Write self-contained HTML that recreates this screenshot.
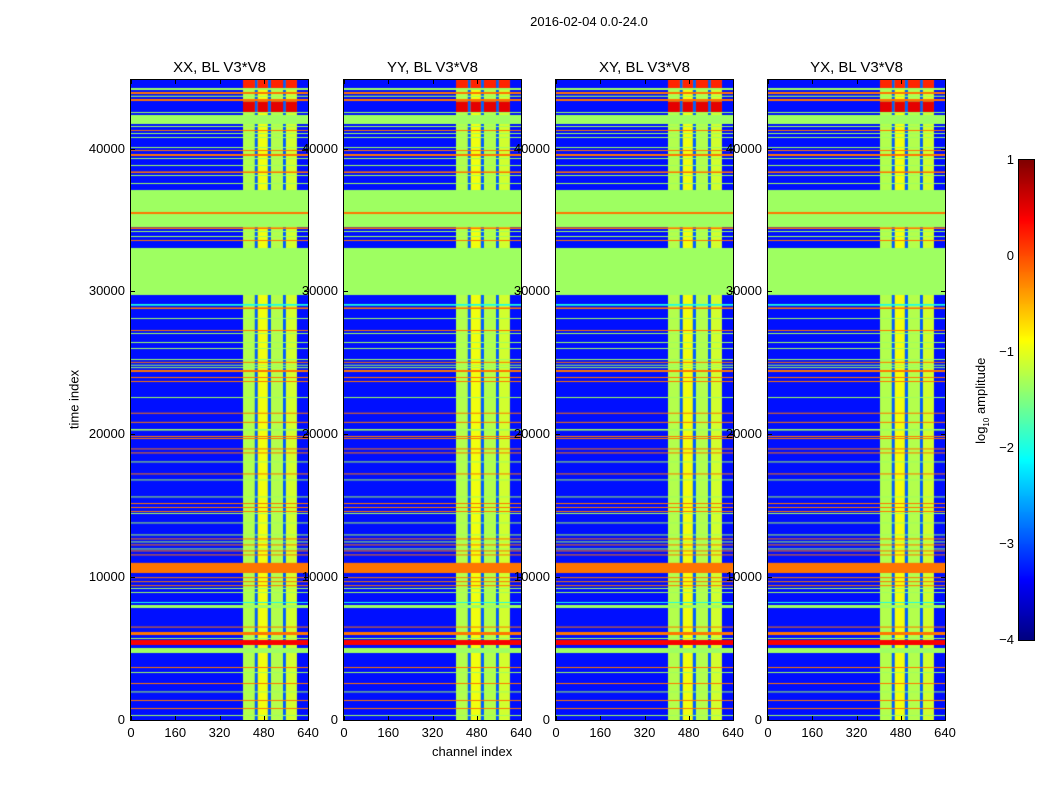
<!DOCTYPE html>
<html><head><meta charset="utf-8"><style>
body{margin:0;background:#fff;width:1050px;height:800px;position:relative;font-family:"Liberation Sans",sans-serif;overflow:hidden}
.t{position:absolute;font-size:13px;color:#000;white-space:nowrap}
canvas{position:absolute}
.frame{position:absolute;border:1px solid #000;box-sizing:border-box}
.tk{position:absolute;background:#000}
</style></head><body>
<div class="t" style="left:0;width:1178px;top:14px;text-align:center">2016-02-04 0.0-24.0</div>
<div class="t" style="left:44px;top:392px;transform:rotate(-90deg);transform-origin:center;width:60px;text-align:center">time index</div>
<div class="t" style="left:432px;top:744px">channel index</div>
<div id="root"></div>
<canvas id="cb" width="15" height="480" style="left:1019px;top:160px;width:15px;height:480px"></canvas>
<div class="frame" style="left:1018px;top:159px;width:17px;height:482px"></div>
<div class="t" style="left:932px;top:392px;width:100px;text-align:center;transform:rotate(-90deg)">log<sub style="font-size:8px">10</sub> amplitude</div>
<script>
const panelTitles=["XX, BL V3*V8","YY, BL V3*V8","XY, BL V3*V8","YX, BL V3*V8"];
const xTicks=[0,160,320,480,640];
const yTicks=[0,10000,20000,30000,40000];
const cbTicks=[1,0,-1,-2,-3,-4];
const baseValue=-3.3;
const blockStart=[405,448,458,495,506,550,560];
const blockEnd=[448,458,495,506,550,560,600];
const blockValue=[-1.25,-2.9,-0.95,-2.9,-1.25,-2.9,-1.1];
const redStart=[42500,44240];
const redEnd=[43300,44800];
const redValue=[0.5,0.2];
const bandStart=[44100,43820,43620,43330,42490,41720,41510,41230,41020,40740,40040,39830,39480,39270,38780,38290,38080,37520,35560,35420,34510,34370,34160,33810,33530,29750,29000,28770,28070,27230,27020,26390,25970,25200,25000,24800,24640,24360,23940,23660,22540,21440,20800,20260,19670,19810,18940,18660,18030,17190,16770,15580,15120,14840,14560,14420,13760,12920,12640,12430,12220,11940,11800,11520,10290,9930,9650,9370,9170,8890,8190,7840,6470,5950,5670,5250,4690,3640,3290,2520,1930,1330,770,280];
const bandEnd=[44240,43960,43700,43470,42560,42350,41580,41300,41090,40810,40110,39900,39620,39340,38850,38400,38150,37590,37100,35560,35420,34480,34230,33880,33600,33040,29120,28880,28140,27300,27090,26460,26040,25270,25070,24870,24700,24500,24010,23730,22610,21510,20870,20370,19740,19880,19010,18730,18100,17260,16840,15650,15190,14910,14630,14490,13830,12990,12710,12500,12290,12010,11870,11590,11000,10000,9720,9440,9240,8960,8260,8050,6540,6160,5740,5600,5040,3710,3360,2590,2000,1400,840,350];
const bandValue=[-1.35,-0.2,-1.35,-0.2,-1.35,-1.35,-1.35,-0.2,-1.35,-1.35,-1.35,-0.2,-0.2,-1.35,-1.35,-0.2,-1.35,-1.35,-1.35,-0.2,-1.35,-0.2,-1.35,-1.35,-0.2,-1.35,-2.0,-0.2,-1.35,-0.2,-1.35,-1.35,-1.35,-1.35,-0.2,-1.35,-1.35,-0.2,-0.2,-0.2,-1.35,-0.2,-0.2,-1.35,-0.2,-0.2,-0.2,-0.2,-1.35,-0.2,-1.35,-1.35,-0.2,-0.2,-0.2,-1.35,-1.35,-1.35,-0.2,-1.35,-0.2,-1.35,-0.2,-0.2,-0.2,-0.2,-0.2,-0.2,-1.35,-1.35,-2.0,-1.35,-0.2,-0.2,-1.35,0.4,-1.35,-0.2,-1.35,-0.2,-1.35,-0.2,-0.2,-1.35];

const PX=[131,344,556,768], PW=177, PT=80, PH=640, TMAX=44800, CMAX=640, VMIN=-4, VMAX=1;
function jet(v){let n=Math.max(0,Math.min(1,(v-VMIN)/(VMAX-VMIN)));const c=x=>Math.round(255*Math.max(0,Math.min(1,1.5-Math.abs(x))));return `rgb(${c(4*n-3)},${c(4*n-2)},${c(4*n-1)})`;}
const xs=c=>c/CMAX*PW, ys=t=>PH-t/TMAX*PH;
const root=document.getElementById('root');
function txt(s,l,t,name,extra){const d=document.createElement('div');d.className='t';d.textContent=s;d.style.left=l+'px';d.style.top=t+'px';if(extra)d.style.cssText+=extra;


root.appendChild(d);return d;}
function tick(l,t,w,h){const d=document.createElement('div');d.className='tk';d.style.cssText=`left:${l}px;top:${t}px;width:${w}px;height:${h}px`;


root.appendChild(d);}
PX.forEach((x0,p)=>{
 const cv=document.createElement('canvas');cv.width=PW;cv.height=PH;cv.style.left=x0+'px';cv.style.top=PT+'px';
 
 
 root.appendChild(cv);const g=cv.getContext('2d');
 g.fillStyle=jet(baseValue);g.fillRect(0,0,PW,PH);
 blockStart.forEach((b,i)=>{g.fillStyle=jet(blockValue[i]);g.fillRect(xs(b),0,xs(blockEnd[i])-xs(b),PH);});
 redStart.forEach((r,j)=>{blockStart.forEach((b,i)=>{if(blockValue[i]>-2){g.fillStyle=jet(redValue[j]);g.fillRect(xs(b),ys(redEnd[j]),xs(blockEnd[i])-xs(b),ys(r)-ys(redEnd[j]));}});});
 bandStart.forEach((b,i)=>{g.fillStyle=jet(bandValue[i]);const y1=ys(bandEnd[i]),y2=ys(b);g.fillRect(0,y1,PW,Math.max(1,y2-y1));});
 const f=document.createElement('div');f.className='frame';f.style.cssText=`left:${x0-1}px;top:${PT-1}px;width:${PW+2}px;height:${PH+2}px`;
 
 
 root.appendChild(f);
 txt(panelTitles[p],x0,59,'panel-title-'+(p+1),`width:${PW}px;text-align:center;font-size:15px`);
 xTicks.forEach(v=>{txt(String(v),x0+xs(v)-20,725,'x-tick-label',`width:40px;text-align:center`);tick(x0+xs(v),PT+PH-4,1,4);tick(x0+xs(v),PT,1,4);});
 yTicks.forEach(v=>{txt(String(v),x0-66,PT+ys(v)-8,'y-tick-label',`width:60px;text-align:right`);tick(x0,PT+ys(v),4,1);tick(x0+PW-4,PT+ys(v),4,1);});
});
const cb=document.getElementById('cb').getContext('2d');
for(let y=0;y<480;y++){cb.fillStyle=jet(VMAX-(y+0.5)/480*(VMAX-VMIN));cb.fillRect(0,y,15,1);}
cbTicks.forEach(v=>{txt(v<0?'\u2212'+(-v):String(v),950,160+(VMAX-v)/(VMAX-VMIN)*480-8,'colorbar-tick-label','width:64px;text-align:right');});
</script>
</body></html>
